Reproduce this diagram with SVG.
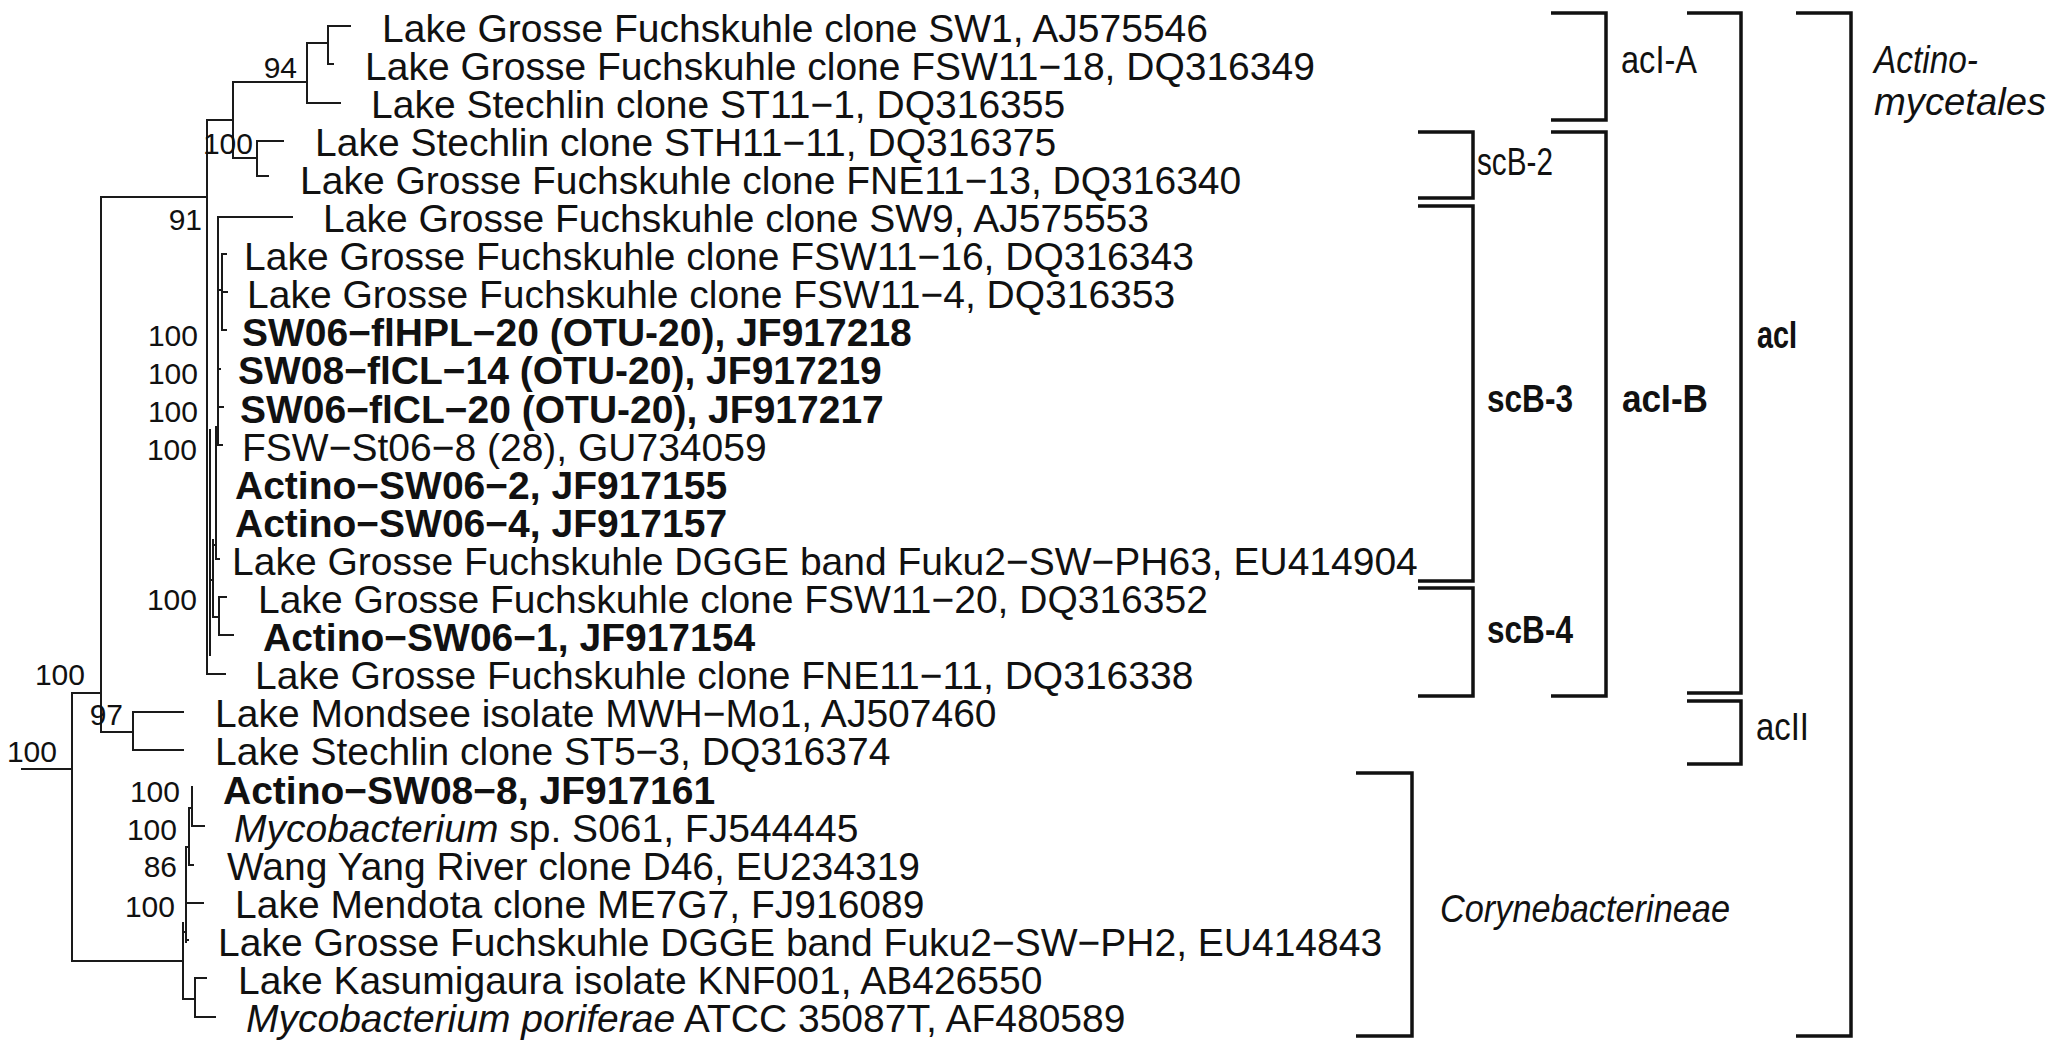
<svg xmlns="http://www.w3.org/2000/svg" width="2059" height="1053" viewBox="0 0 2059 1053">
<style>
  .bg { fill: #ffffff; }
  .tree { fill: none; stroke: #1a1a1a; stroke-width: 2; stroke-linecap: square; }
  .br { fill: none; stroke: #111111; stroke-width: 3.5; }
  .lf { font-family: "Liberation Sans", Arial, Helvetica, sans-serif; font-size: 39px; fill: #111111; }
  .b { font-weight: bold; }
  .i { font-style: italic; }
  .sup { font-family: "Liberation Sans", Arial, Helvetica, sans-serif; font-size: 30px; fill: #111111; text-anchor: end; }
  .cl { font-family: "Liberation Sans", Arial, Helvetica, sans-serif; font-size: 38px; fill: #111111; }
</style>
<rect class="bg" x="0" y="0" width="2059" height="1053"/>

<g id="connectors" class="tree">
  <path d="M22,769 H72 M72,693 V961 M72,693 H101 M101,197 V732"/>
  <path d="M101,732 H133 M133,712 V750 M133,712 H183 M133,750 H183"/>
  <path d="M101,197 H207 M207,120 V674"/>
  <path d="M207,120 H233 M233,82 V158 M233,82 H307 M307,43 V103 M307,43 H328 M328,26 V64 M328,26 H350 M328,64 H333 M307,103 H340"/>
  <path d="M233,158 H257 M257,141 V176 M257,141 H283 M257,176 H268"/>
  <path d="M207,674 H225 M210,430 V655 M210,580 H213 M213,540 V617 M213,617 H219 M219,597 V635 M219,597 H226 M219,635 H233"/>
  <path d="M213,545 H216 M216,427 V559 M216,445 H222 M216,559 H219"/>
  <path d="M218,217 V445 M218,217 H292 M218,290 H222 M222,254 V330 M222,254 H226 M222,292 H227 M222,330 H226 M218,407 H223 M218,369 H220"/>
  <path d="M72,961 H183 M183,923 V999 M183,999 H195 M195,978 V1017 M195,978 H206 M195,1017 H215"/>
  <path d="M186,847 V942 M183,932 H186 M186,940 H188 M186,903 H203 M189,808 V865 M186,847 H189 M189,865 H193 M192,787 V826 M189,808 H192 M192,826 H204"/>
</g>

<g id="support-values">
  <text class="sup" x="297" y="78">94</text>
  <text class="sup" x="253" y="154">100</text>
  <text class="sup" x="202" y="230">91</text>
  <text class="sup" x="198" y="346">100</text>
  <text class="sup" x="198" y="384">100</text>
  <text class="sup" x="198" y="422">100</text>
  <text class="sup" x="197" y="460">100</text>
  <text class="sup" x="197" y="610">100</text>
  <text class="sup" x="85" y="685">100</text>
  <text class="sup" x="123" y="725">97</text>
  <text class="sup" x="57" y="762">100</text>
  <text class="sup" x="180" y="802">100</text>
  <text class="sup" x="177" y="840">100</text>
  <text class="sup" x="177" y="877">86</text>
  <text class="sup" x="175" y="917">100</text>
</g>

<g id="leaf-01"><text class="lf" x="382" y="41.5">Lake Grosse Fuchskuhle clone SW1, AJ575546</text></g>
<g id="leaf-02"><text class="lf" x="365" y="79.6">Lake Grosse Fuchskuhle clone FSW11−18, DQ316349</text></g>
<g id="leaf-03"><text class="lf" x="371" y="117.7">Lake Stechlin clone ST11−1, DQ316355</text></g>
<g id="leaf-04"><text class="lf" x="315" y="155.8">Lake Stechlin clone STH11−11, DQ316375</text></g>
<g id="leaf-05"><text class="lf" x="300" y="193.9">Lake Grosse Fuchskuhle clone FNE11−13, DQ316340</text></g>
<g id="leaf-06"><text class="lf" x="323" y="232">Lake Grosse Fuchskuhle clone SW9, AJ575553</text></g>
<g id="leaf-07"><text class="lf" x="244" y="270.1">Lake Grosse Fuchskuhle clone FSW11−16, DQ316343</text></g>
<g id="leaf-08"><text class="lf" x="247" y="308.2">Lake Grosse Fuchskuhle clone FSW11−4, DQ316353</text></g>
<g id="leaf-09"><text class="lf b" x="242" y="346.3">SW06−flHPL−20 (OTU-20), JF917218</text></g>
<g id="leaf-10"><text class="lf b" x="238" y="384.4">SW08−flCL−14 (OTU-20), JF917219</text></g>
<g id="leaf-11"><text class="lf b" x="240" y="422.5">SW06−flCL−20 (OTU-20), JF917217</text></g>
<g id="leaf-12"><text class="lf" x="242" y="460.6">FSW−St06−8 (28), GU734059</text></g>
<g id="leaf-13"><text class="lf b" x="235" y="498.7">Actino−SW06−2, JF917155</text></g>
<g id="leaf-14"><text class="lf b" x="235" y="536.8">Actino−SW06−4, JF917157</text></g>
<g id="leaf-15"><text class="lf" x="232" y="574.9">Lake Grosse Fuchskuhle DGGE band Fuku2−SW−PH63, EU414904</text></g>
<g id="leaf-16"><text class="lf" x="258" y="613">Lake Grosse Fuchskuhle clone FSW11−20, DQ316352</text></g>
<g id="leaf-17"><text class="lf b" x="263" y="651.1">Actino−SW06−1, JF917154</text></g>
<g id="leaf-18"><text class="lf" x="255" y="689.2">Lake Grosse Fuchskuhle clone FNE11−11, DQ316338</text></g>
<g id="leaf-19"><text class="lf" x="215" y="727.3">Lake Mondsee isolate MWH−Mo1, AJ507460</text></g>
<g id="leaf-20"><text class="lf" x="215" y="765.4">Lake Stechlin clone ST5−3, DQ316374</text></g>
<g id="leaf-21"><text class="lf b" x="223" y="803.5">Actino−SW08−8, JF917161</text></g>
<g id="leaf-22"><text class="lf" x="234" y="841.6"><tspan class="i">Mycobacterium</tspan> sp. S061, FJ544445</text></g>
<g id="leaf-23"><text class="lf" x="227" y="879.7">Wang Yang River clone D46, EU234319</text></g>
<g id="leaf-24"><text class="lf" x="235" y="917.8">Lake Mendota clone ME7G7, FJ916089</text></g>
<g id="leaf-25"><text class="lf" x="218" y="955.9">Lake Grosse Fuchskuhle DGGE band Fuku2−SW−PH2, EU414843</text></g>
<g id="leaf-26"><text class="lf" x="238" y="994">Lake Kasumigaura isolate KNF001, AB426550</text></g>
<g id="leaf-27"><text class="lf" x="246" y="1032.1"><tspan class="i">Mycobacterium poriferae</tspan> ATCC 35087T, AF480589</text></g>

<g id="clade-acI-A"><path class="br" d="M1551,13 H1606 V120 H1551"/><text class="cl" x="1621" y="73" textLength="76" lengthAdjust="spacingAndGlyphs">acI-A</text></g>
<g id="clade-scB-2"><path class="br" d="M1418,132 H1473 V198 H1418"/><text class="cl" x="1477" y="175" textLength="76" lengthAdjust="spacingAndGlyphs">scB-2</text></g>
<g id="clade-scB-3"><path class="br" d="M1418,206 H1473 V581 H1418"/><text class="cl b" x="1487" y="412" textLength="86" lengthAdjust="spacingAndGlyphs">scB-3</text></g>
<g id="clade-scB-4"><path class="br" d="M1418,588 H1473 V696 H1418"/><text class="cl b" x="1487" y="643" textLength="86" lengthAdjust="spacingAndGlyphs">scB-4</text></g>
<g id="clade-acI-B"><path class="br" d="M1551,132 H1606 V696 H1551"/><text class="cl b" x="1622" y="412" textLength="86" lengthAdjust="spacingAndGlyphs">acI-B</text></g>
<g id="clade-acI"><path class="br" d="M1687,13 H1741 V693 H1687"/><text class="cl b" x="1757" y="348" textLength="40" lengthAdjust="spacingAndGlyphs">acI</text></g>
<g id="clade-acII"><path class="br" d="M1687,701 H1741 V764 H1687"/><text class="cl" x="1756" y="740" textLength="53" lengthAdjust="spacingAndGlyphs">acII</text></g>
<g id="clade-Actinomycetales"><path class="br" d="M1796,13 H1851 V1036 H1796"/><text class="cl i" x="1874" y="73" textLength="104" lengthAdjust="spacingAndGlyphs">Actino-</text><text class="cl i" x="1874" y="115" textLength="172" lengthAdjust="spacingAndGlyphs">mycetales</text></g>
<g id="clade-Corynebacterineae"><path class="br" d="M1356,773 H1412 V1036 H1356"/><text class="cl i" x="1440" y="922" textLength="290" lengthAdjust="spacingAndGlyphs">Corynebacterineae</text></g>
</svg>
